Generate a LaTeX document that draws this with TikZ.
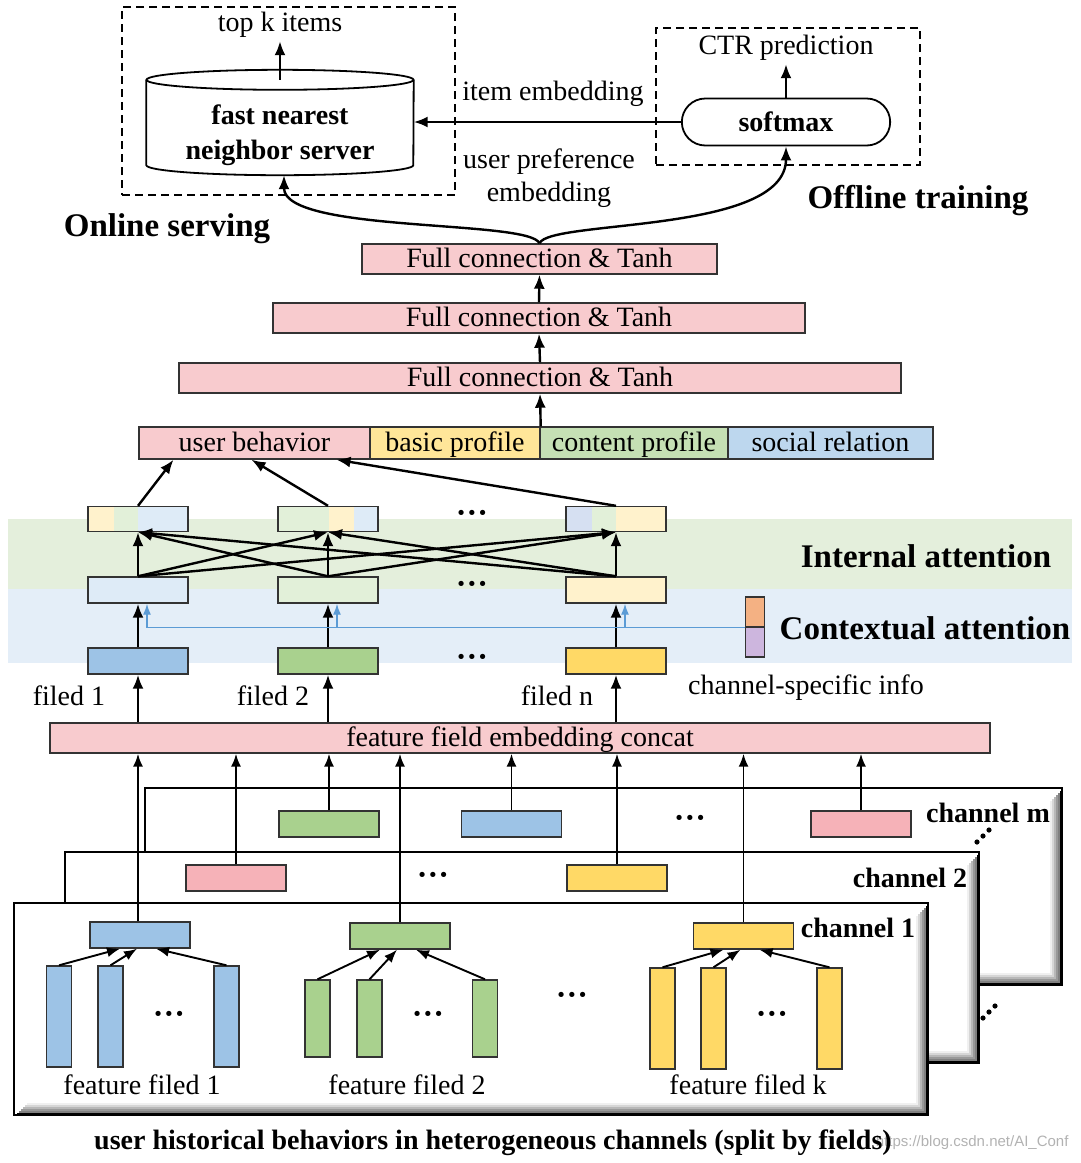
\documentclass[tikz,border=0pt]{standalone}
\usepackage{fontspec}
\setmainfont{Liberation Serif}
\setsansfont{Liberation Sans}
\usepackage{xcolor}
\usetikzlibrary{
    arrows.meta,
    shapes.misc,
    calc,
    positioning
}

\definecolor{fcpink}{RGB}{248,203,206}
\definecolor{chpink}{RGB}{246,178,184}
\definecolor{profyellow}{RGB}{255,230,153}
\definecolor{profgreen}{RGB}{197,224,180}
\definecolor{profblue}{RGB}{189,215,238}
\definecolor{fieldblue}{RGB}{157,195,230}
\definecolor{fieldgreen}{RGB}{169,209,142}
\definecolor{fieldyellow}{RGB}{255,217,102}
\definecolor{paleblue}{RGB}{222,235,247}
\definecolor{palegreen}{RGB}{226,240,217}
\definecolor{paleyellow}{RGB}{255,242,204}
\definecolor{palelav}{RGB}{214,224,242}
\definecolor{bandgreen}{RGB}{228,239,220}
\definecolor{bandblue}{RGB}{228,238,248}
\definecolor{ctxorange}{RGB}{244,177,131}
\definecolor{ctxpurple}{RGB}{205,182,222}
\definecolor{ctxline}{RGB}{91,155,213}

\tikzset{
    cell/.style={draw=black!80, line width=1.4pt, inner sep=0pt, text height=21pt, text depth=4pt},
    fcbox/.style={cell, fill=fcpink, minimum height=30pt},
    profbox/.style={cell, minimum height=32pt},
    featbox/.style={cell, minimum width=100pt, minimum height=26pt},
    bar/.style={cell, minimum width=25pt},
    dashbox/.style={draw, line width=1.8pt, dash pattern=on 8pt off 5pt, inner sep=0pt},
    chanframe/.style={draw=black, line width=2.2pt, fill=white, inner sep=0pt,
        path picture={
            \foreach \d/\c in {1/100,3/50,5/40,7/28,9/16,11/6} {
                \draw[black!\c, line width=2.2pt]
                    ([xshift=-\d*1pt, yshift=-\d*1pt-2pt]path picture bounding box.north east)
                    -- ([xshift=-\d*1pt, yshift=\d*1pt]path picture bounding box.south east)
                    -- ([xshift=\d*1pt+2pt, yshift=\d*1pt]path picture bounding box.south west);
            }
        }},
    biglabel/.style={font=\fontsize{33}{38}\selectfont\bfseries},
    boldlabel/.style={font=\fontsize{28}{33}\selectfont\bfseries},
    dotslabel/.style={font=\fontsize{32}{36}\selectfont\bfseries, inner sep=0pt},
    flow/.style={-{Latex[length=14pt, width=11pt]}, line width=2.4pt},
    thinflow/.style={-{Latex[length=13pt, width=10pt]}, line width=1.9pt},
    ctxarrow/.style={draw=ctxline, line width=1.4pt, -{Latex[length=11pt, width=8pt]}}
}

\begin{document}
\begin{tikzpicture}[x=1pt, y=-1pt, font=\fontsize{28}{33}\selectfont]
    \useasboundingbox (0,0) rectangle (1080,1163);

    % online serving / offline training
    \node[dashbox, minimum width=333pt, minimum height=188pt] (online) at (288.5,101) {};
    \node[dashbox, minimum width=264pt, minimum height=137pt] (offline) at (788,96.5) {};
    \node (topk) at (280,25) {top k items};
    \node[minimum width=267pt, minimum height=105pt, inner sep=0pt] (nns) at (280,122.5) {};
    \draw[line width=1.8pt] ([yshift=-10pt]nns.north west) -- ([yshift=10pt]nns.south west)
        arc[start angle=180, end angle=0, x radius=133.5, y radius=10]
        -- ([yshift=-10pt]nns.north east);
    \draw[line width=1.8pt] ([yshift=-10pt]nns.north) ellipse [x radius=133.5, y radius=10];
    \node[boldlabel, align=center] (nnslbl) at (280,135) {fast nearest\\[2pt]neighbor server};
    \node[draw, line width=1.8pt, rounded rectangle, minimum width=215pt, minimum height=47pt,
        boldlabel] (sm) at (786,122) {softmax};
    \node (ctr) at (786,48) {CTR prediction};
    \node (itememb) at (553,94) {item embedding};
    \node[align=center] (userpref) at (549,178) {user preference\\embedding};
    \node[biglabel] (offlbl) at (918,201) {Offline training};
    \node[biglabel] (onlbl) at (167,229) {Online serving};

    % fully connected layers
    \node[fcbox, minimum width=355pt] (fc1) at (539.5,259) {Full connection \& Tanh};
    \node[fcbox, minimum width=532pt] (fc2) at (539,318) {Full connection \& Tanh};
    \node[fcbox, minimum width=722pt] (fc3) at (540,378) {Full connection \& Tanh};
    \node[profbox, fill=fcpink, minimum width=231pt] (ub) at (254.5,443) {user behavior};
    \node[profbox, fill=profyellow, minimum width=170pt] (bp) at (455,443) {basic profile};
    \node[profbox, fill=profgreen, minimum width=188pt] (cp) at (634,443) {content profile};
    \node[profbox, fill=profblue, minimum width=205pt] (sr) at (830.5,443) {social relation};

    % attention bands
    \fill[bandgreen] (8,519) rectangle (1072,589);
    \fill[bandblue] (8,589) rectangle (1072,663);
    \node[biglabel] (intlbl) at (926,556) {Internal attention};
    \node[biglabel] (ctxlbl) at (925,628) {Contextual attention};

    % mixed fields after internal attention
    \fill[paleyellow] (88,507) rectangle (114,531);
    \fill[palegreen] (114,507) rectangle (138,531);
    \fill[paleblue] (138,507) rectangle (188,531);
    \fill[palegreen] (278,507) rectangle (329,531);
    \fill[paleyellow] (329,507) rectangle (354,531);
    \fill[paleblue] (354,507) rectangle (378,531);
    \fill[palelav] (566,507) rectangle (592,531);
    \fill[palegreen] (592,507) rectangle (616,531);
    \fill[paleyellow] (616,507) rectangle (666,531);
    \node[featbox, minimum height=24pt] (t1) at (138,519) {};
    \node[featbox, minimum height=24pt] (t2) at (328,519) {};
    \node[featbox, minimum height=24pt] (t3) at (616,519) {};
    \node[dotslabel] (tdots) at (472,517) {···};

    \node[featbox, fill=paleblue] (m1) at (138,590) {};
    \node[featbox, fill=palegreen] (m2) at (328,590) {};
    \node[featbox, fill=paleyellow] (m3) at (616,590) {};
    \node[dotslabel] (mdots) at (472,588) {···};

    \node[featbox, fill=fieldblue] (f1) at (138,661) {};
    \node[featbox, fill=fieldgreen] (f2) at (328,661) {};
    \node[featbox, fill=fieldyellow] (f3) at (616,661) {};
    \node[dotslabel] (fdots) at (472,661) {···};

    \node[cell, fill=ctxorange, minimum width=19pt, minimum height=30pt] (ctxo) at (755,612) {};
    \node[cell, fill=ctxpurple, minimum width=19pt, minimum height=30pt] (ctxp) at (755,642) {};
    \node (ctxinfo) at (806,688) {channel-specific info};

    \node (fl1) at (69,696) {filed 1};
    \node (fl2) at (273,696) {filed 2};
    \node (fl3) at (557,696) {filed n};

    \node[fcbox, minimum width=940pt] (concat) at (520,738) {feature field embedding concat};

    % channels
    \node[chanframe, minimum width=917pt, minimum height=197pt] (chm) at (603.5,886.5) {};
    \node[chanframe, minimum width=914pt, minimum height=211pt] (ch2) at (522,957.5) {};
    \node[chanframe, minimum width=914pt, minimum height=212pt] (ch1) at (471,1009) {};
    \node[boldlabel] (chmlbl) at (988,813) {channel m};
    \node[boldlabel] (ch2lbl) at (910,878) {channel 2};
    \node[boldlabel] (ch1lbl) at (858,928) {channel 1};
    \fill (977,842) circle (2.6) (983,836) circle (2.6) (989,830) circle (2.6);
    \fill (983,1018) circle (2.6) (989,1012) circle (2.6) (995,1006) circle (2.6);

    \node[featbox, fill=fieldgreen] (cma) at (329,824) {};
    \node[featbox, fill=fieldblue] (cmb) at (511.5,824) {};
    \node[featbox, fill=chpink] (cmc) at (861,824) {};
    \node[dotslabel] (cmdots) at (690,822) {···};

    \node[featbox, fill=chpink] (c2a) at (236,878) {};
    \node[featbox, fill=fieldyellow] (c2b) at (617,878) {};
    \node[dotslabel] (c2dots) at (433,879) {···};

    \node[featbox, fill=fieldblue] (c1a) at (140,935) {};
    \node[featbox, fill=fieldgreen] (c1b) at (400,936) {};
    \node[featbox, fill=fieldyellow] (c1c) at (743.5,936) {};

    \node[bar, fill=fieldblue, minimum height=101pt] (b11) at (59,1016.5) {};
    \node[bar, fill=fieldblue, minimum height=101pt] (b12) at (110.5,1016.5) {};
    \node[bar, fill=fieldblue, minimum height=101pt] (b13) at (226.5,1016.5) {};
    \node[bar, fill=fieldgreen, minimum height=77pt] (b21) at (317.5,1018.5) {};
    \node[bar, fill=fieldgreen, minimum height=77pt] (b22) at (369.5,1018.5) {};
    \node[bar, fill=fieldgreen, minimum height=77pt] (b23) at (485,1018.5) {};
    \node[bar, fill=fieldyellow, minimum height=101pt] (b31) at (662.5,1018.5) {};
    \node[bar, fill=fieldyellow, minimum height=101pt] (b32) at (713.5,1018.5) {};
    \node[bar, fill=fieldyellow, minimum height=101pt] (b33) at (829.5,1018.5) {};
    \node[dotslabel] (bdots1) at (169,1018) {···};
    \node[dotslabel] (bdots2) at (428,1018) {···};
    \node[dotslabel] (bdots3) at (772,1018) {···};
    \node[dotslabel] (bdots) at (572,999) {···};

    \node (ff1) at (142,1085) {feature filed 1};
    \node (ff2) at (407,1085) {feature filed 2};
    \node (ff3) at (748,1085) {feature filed k};

    \node[anchor=east, font=\sffamily\fontsize{15}{18}\selectfont, text=gray!60] (wm) at (1072,1143) {https://blog.csdn.net/AI\_Conf};
    \node[boldlabel] (caption) at (493,1143) {user historical behaviors in heterogeneous channels (split by fields)};

    % connectors
    \draw[flow] ([yshift=-10pt]nns.north) -- (topk.south);
    \draw[flow] (sm.north) -- (ctr.south);
    \draw[flow] (sm.west) -- (sm.west -| nns.east);
    \draw[flow] (fc1.north) .. controls +(-10,-24) and +(0,58) .. ([xshift=4pt]nns.south);
    \draw[flow] (fc1.north) .. controls +(10,-24) and +(0,88) .. (sm.south);
    \draw[flow] (fc2.north) -- (fc1.south);
    \draw[flow] (fc3.north) -- (fc2.south);
    \draw[flow] (bp.north east) -- (fc3.south);

    \draw
    (t1.north) edge[flow] ([xshift=-81pt]ub.south)
    (t2.north) edge[flow] ([xshift=-3pt]ub.south)
    (t3.north) edge[flow] ([xshift=82pt]ub.south);

    \draw
    (m1.north) edge[flow] (t1.south)
    (m1.north) edge[flow] (t2.south)
    (m1.north) edge[flow] (t3.south)
    (m2.north) edge[flow] (t1.south)
    (m2.north) edge[flow] (t2.south)
    (m2.north) edge[flow] (t3.south)
    (m3.north) edge[flow] (t1.south)
    (m3.north) edge[flow] (t2.south)
    (m3.north) edge[flow] (t3.south);

    \draw
    (f1.north) edge[flow] (m1.south)
    (f2.north) edge[flow] (m2.south)
    (f3.north) edge[flow] (m3.south);
    \draw[ctxarrow] (ctxo.south west) -| ([xshift=9pt]m1.south);
    \draw[ctxarrow] ([xshift=9pt]m2.south |- ctxo.south west) -- ([xshift=9pt]m2.south);
    \draw[ctxarrow] ([xshift=9pt]m3.south |- ctxo.south west) -- ([xshift=9pt]m3.south);

    \draw
    (f1.south |- concat.north) edge[flow] (f1.south)
    (f2.south |- concat.north) edge[flow] (f2.south)
    (f3.south |- concat.north) edge[flow] (f3.south);

    \draw
    ([xshift=-2pt]c1a.north) edge[thinflow] ([xshift=-2pt]c1a.north |- concat.south)
    (c2a.north) edge[thinflow] (c2a.north |- concat.south)
    (cma.north) edge[thinflow] (cma.north |- concat.south)
    (c1b.north) edge[thinflow] (c1b.north |- concat.south)
    (cmb.north) edge[thinflow] (cmb.north |- concat.south)
    (c2b.north) edge[thinflow] (c2b.north |- concat.south)
    (c1c.north) edge[thinflow] (c1c.north |- concat.south)
    (cmc.north) edge[thinflow] (cmc.north |- concat.south);

    \draw
    (b11.north) edge[thinflow] ([xshift=-20pt]c1a.south)
    (b12.north) edge[thinflow] ([xshift=-3pt]c1a.south)
    (b13.north) edge[thinflow] ([xshift=16pt]c1a.south)
    (b21.north) edge[thinflow] ([xshift=-20pt]c1b.south)
    (b22.north) edge[thinflow] ([xshift=-3pt]c1b.south)
    (b23.north) edge[thinflow] ([xshift=16pt]c1b.south)
    (b31.north) edge[thinflow] ([xshift=-20pt]c1c.south)
    (b32.north) edge[thinflow] ([xshift=-3pt]c1c.south)
    (b33.north) edge[thinflow] ([xshift=16pt]c1c.south);
\end{tikzpicture}
\end{document}
